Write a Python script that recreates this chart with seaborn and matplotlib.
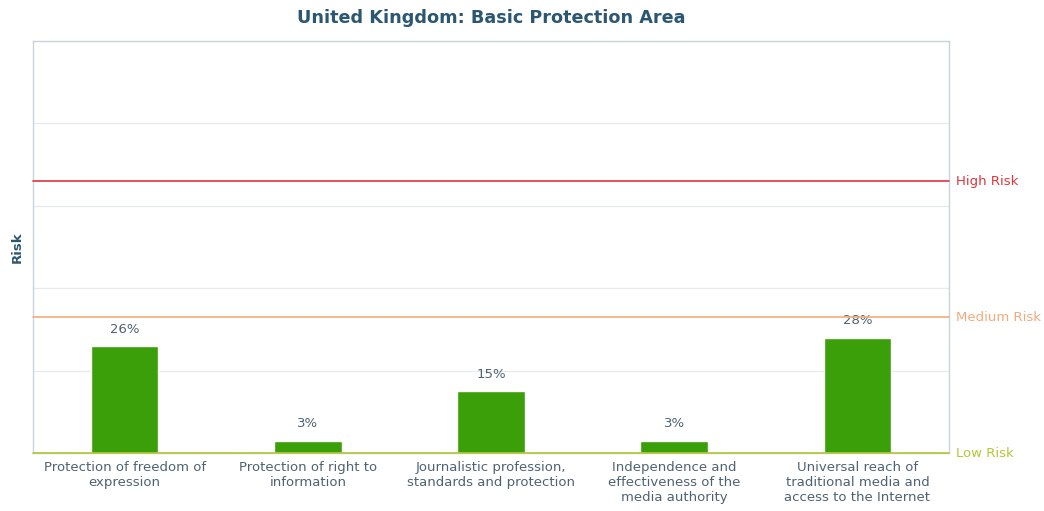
import matplotlib
matplotlib.use("Agg")
import matplotlib.pyplot as plt
import seaborn as sns
import pandas as pd

categories = [
    "Protection of freedom of\nexpression",
    "Protection of right to\ninformation",
    "Journalistic profession,\nstandards and protection",
    "Independence and\neffectiveness of the\nmedia authority",
    "Universal reach of\ntraditional media and\naccess to the Internet",
]
risk_values = [26, 3, 15, 3, 28]
risk_levels = ["Low Risk", "Medium Risk", "High Risk"]
risk_thresholds = [0, 33, 66]
risk_colors = ["#b3c634", "#f2ab7c", "#e0343c"]

sns.set_theme(style="white")
plt.rcParams["font.family"] = ["DejaVu Sans"]

df = pd.DataFrame({"area": categories, "risk": risk_values})

fig = plt.figure(figsize=(10.44, 5.11), dpi=100)
ax = fig.add_axes([0.0316, 0.1135, 0.8774, 0.8063])

sns.barplot(data=df, x="area", y="risk", color="#3a9f08", width=0.37,
            saturation=1, ax=ax, zorder=3)

ax.set_ylim(0, 100)
ax.set_xlim(-0.5, len(categories) - 0.5)
ax.set_yticks([20, 40, 60, 80])
ax.yaxis.grid(True, color="#e6eaee", linewidth=0.9, zorder=0)
ax.set_yticklabels([])
ax.tick_params(axis="y", length=0)
ax.tick_params(axis="x", length=0, pad=6, labelsize=9.5, labelcolor="#4e6272")

for s in ax.spines.values():
    s.set_color("#c9d3da")
    s.set_linewidth(1.0)

for level, thr, col in zip(risk_levels, risk_thresholds, risk_colors):
    ax.axhline(thr, color=col, linewidth=1.2, zorder=4, clip_on=False)
    ax.text(1.008, thr, level, transform=ax.get_yaxis_transform(),
            color=col, fontsize=9.5, va="center", ha="left")

for i, v in enumerate(risk_values):
    ax.text(i, v + 2.5, f"{v}%", ha="center", va="bottom",
            fontsize=9.5, color="#4e6272")

ax.set_xlabel("")
ax.set_ylabel("Risk", fontsize=9.5, fontweight="bold", color="#2b5773", labelpad=3)
ax.set_title("United Kingdom: Basic Protection Area", fontsize=12.7,
             fontweight="bold", color="#2b5773", pad=13)

fig.savefig("out.png", dpi=100)
